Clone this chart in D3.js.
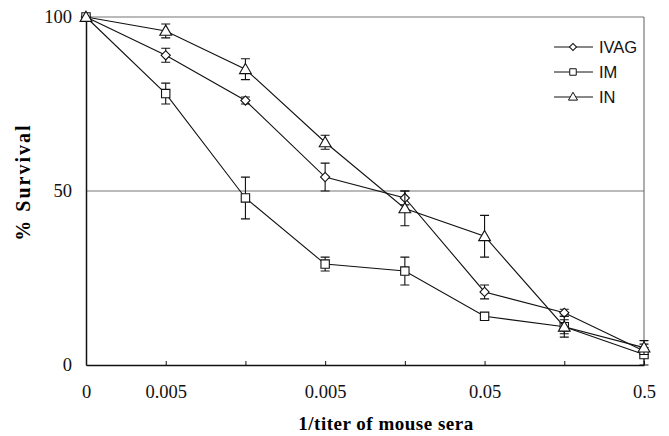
<!DOCTYPE html>
<html>
<head>
<meta charset="utf-8">
<script src="https://cdn.jsdelivr.net/npm/d3@7"></script>
<style>
  body { margin: 0; background: #fff; }
  svg { display: block; }
</style>
</head>
<body>
<div id="chart"></div>
<script>
// x positions are equally spaced dilutions, only some are labelled
const tickLabels = ['0', '0.005', '', '0.005', '', '0.05', '', '0.5']
const seriesNames = ['IVAG', 'IM', 'IN']
const ivag = [100, 89, 76, 54, 48, 21, 15, 4]
const ivagErr = [0, 2, 1, 4, 2, 2, 1, 1]
const im = [100, 78, 48, 29, 27, 14, 11, 3]
const imErr = [0, 3, 6, 2, 4, 1, 2, 3]
const inn = [100, 96, 85, 64, 45, 37, 11, 5]
const innErr = [0, 2, 3, 2, 5, 6, 3, 2]
const yTicks = [0, 50, 100]

const width = 669
const height = 436
const margin = {top: 17, right: 25, bottom: 71, left: 86}

const svg = d3.select('#chart').append('svg')
  .attr('width', width)
  .attr('height', height)

const x = d3.scaleLinear().domain([0, tickLabels.length - 1]).range([margin.left, width - margin.right])
const y = d3.scaleLinear().domain([0, 100]).range([height - margin.bottom, margin.top])

const serif = 'Liberation Serif, Times New Roman, serif'
const sans = 'Liberation Sans, Arial, sans-serif'

// frame: grey top/right and 50% line
svg.append('line').attr('x1', x(0)).attr('x2', x(7)).attr('y1', y(100)).attr('y2', y(100))
  .attr('stroke', '#777').attr('stroke-width', 1.2)
svg.append('line').attr('x1', x(7)).attr('x2', x(7)).attr('y1', y(100)).attr('y2', y(0))
  .attr('stroke', '#777').attr('stroke-width', 1.2)
svg.append('line').attr('x1', x(0)).attr('x2', x(7)).attr('y1', y(50)).attr('y2', y(50))
  .attr('stroke', '#777').attr('stroke-width', 1.2)

// x axis
const xAxis = svg.append('g')
  .attr('transform', `translate(0,${y(0)})`)
  .call(d3.axisBottom(x).tickValues(d3.range(tickLabels.length)).tickSize(-4).tickSizeOuter(0)
    .tickFormat(i => tickLabels[i]).tickPadding(20))
xAxis.select('.domain').attr('stroke', '#111').attr('stroke-width', 1.5)
xAxis.selectAll('.tick line').attr('stroke', '#111')
xAxis.selectAll('text').attr('font-family', serif).attr('font-size', 18.5).attr('fill', '#111')

// y axis
const yAxis = svg.append('g')
  .attr('transform', `translate(${x(0)},0)`)
  .call(d3.axisLeft(y).tickValues(yTicks).tickSize(0).tickPadding(14))
yAxis.select('.domain').attr('stroke', '#111').attr('stroke-width', 1.5)
yAxis.selectAll('text').attr('font-family', serif).attr('font-size', 18.5).attr('fill', '#111')

// axis titles
svg.append('text')
  .attr('x', 386).attr('y', 430)
  .attr('text-anchor', 'middle')
  .attr('font-family', serif).attr('font-weight', 'bold').attr('font-size', 19)
  .attr('letter-spacing', 0.5)
  .text('1/titer of mouse sera')
svg.append('text')
  .attr('transform', 'translate(30,182) rotate(-90)')
  .attr('text-anchor', 'middle')
  .attr('font-family', serif).attr('font-weight', 'bold').attr('font-size', 20)
  .attr('letter-spacing', 2)
  .text('% Survival')

// diamond = square turned 45 degrees
const series = [
  {name: seriesNames[0], values: ivag, err: ivagErr, symbol: d3.symbolSquare, size: 42, rot: 45},
  {name: seriesNames[1], values: im, err: imErr, symbol: d3.symbolSquare, size: 70, rot: 0},
  {name: seriesNames[2], values: inn, err: innErr, symbol: d3.symbolTriangle, size: 60, rot: 0}
]

const line = d3.line().x((d, i) => x(i)).y(d => y(d))
const cap = 4.5

series.forEach(s => {
  const g = svg.append('g')
  const dy = s.symbol === d3.symbolTriangle ? 1 : 0
  g.append('path').attr('d', line(s.values)).attr('fill', 'none').attr('stroke', '#111').attr('stroke-width', 1.1)
  g.selectAll('.eb').data(s.values.map((v, i) => ({v, e: s.err[i], i})).filter(d => d.e > 0))
    .enter().append('path')
    .attr('d', d => {
      const cx = x(d.i), t = y(d.v + d.e), b = y(d.v - d.e)
      return `M${cx},${t}V${b}M${cx - cap},${t}H${cx + cap}M${cx - cap},${b}H${cx + cap}`
    })
    .attr('stroke', '#111').attr('stroke-width', 1.1).attr('fill', 'none')
  g.selectAll('.pt').data(s.values).enter().append('path')
    .attr('transform', (d, i) => `translate(${x(i)},${y(d) + dy}) rotate(${s.rot})`)
    .attr('d', d3.symbol().type(s.symbol).size(s.size))
    .attr('fill', '#fff').attr('stroke', '#111').attr('stroke-width', 1.1)
})

// legend
const legend = svg.append('g').attr('transform', 'translate(554,47)')
series.forEach((s, i) => {
  const row = legend.append('g').attr('transform', `translate(0,${i * 25})`)
  row.append('line').attr('x1', 0).attr('x2', 39).attr('stroke', '#111').attr('stroke-width', 1)
  row.append('path')
    .attr('transform', `translate(19,${s.symbol === d3.symbolTriangle ? 0.5 : 0}) rotate(${s.rot})`)
    .attr('d', d3.symbol().type(s.symbol).size(s.size * 0.6))
    .attr('fill', '#fff').attr('stroke', '#111').attr('stroke-width', 1)
  row.append('text').attr('x', 45).attr('y', 6)
    .attr('font-family', sans).attr('font-size', 16.5).attr('fill', '#111')
    .text(s.name)
})
</script>
</body>
</html>
